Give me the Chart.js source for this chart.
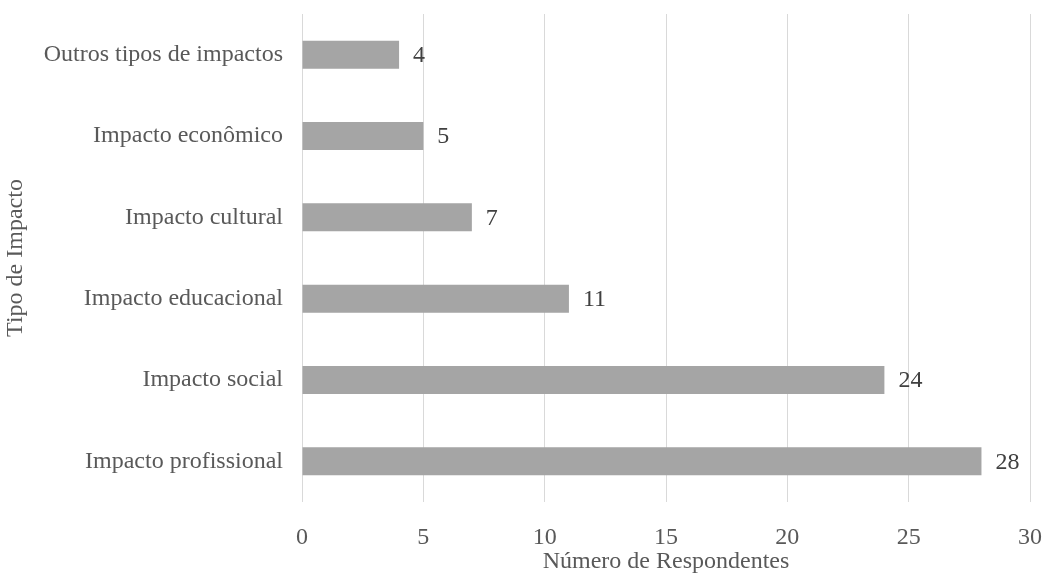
<!DOCTYPE html>
<html><head><meta charset="utf-8">
<script src="https://cdn.jsdelivr.net/npm/chart.js@4/dist/chart.umd.min.js"></script>
<style>html,body{margin:0;padding:0;background:#fff;}#wrap{width:1045px;height:576px;}</style>
</head><body><div id="wrap"><canvas id="c" width="1045" height="576"></canvas></div>
<script>
const categories = ["Outros tipos de impactos","Impacto econômico","Impacto cultural","Impacto educacional","Impacto social","Impacto profissional"];
const values = [4,5,7,11,24,28];
const xTicks = [0,5,10,15,20,25,30];

const FONT = "'Liberation Serif','Times New Roman',serif";
const TXT = '#595959';

const labelPlugin = {
  id:'vals',
  afterDatasetsDraw(chart){
    const ctx = chart.ctx;
    const meta = chart.getDatasetMeta(0);
    ctx.save();
    ctx.font = '24px ' + FONT;
    ctx.fillStyle = '#404040';
    ctx.textAlign = 'left';
    ctx.textBaseline = 'middle';
    meta.data.forEach((bar,i)=>{
      ctx.fillText(String(values[i]), bar.x + 14, bar.y + 1);
    });
    ctx.restore();
  }
};

function zeroPad(ax){ ax.paddingTop = 0; ax.paddingBottom = 0; ax.paddingLeft = 0; ax.paddingRight = 0; }

new Chart(document.getElementById('c'), {
  type:'bar',
  data:{ labels: categories, datasets:[{ data: values, backgroundColor:'#a5a5a5', borderWidth:0, barPercentage:0.344, categoryPercentage:1 }]},
  options:{
    indexAxis:'y',
    responsive:false,
    animation:false,
    devicePixelRatio:1,
    layout:{ padding:{ top:14, right:15, left:0, bottom:0 } },
    plugins:{ legend:{display:false}, tooltip:{enabled:false} },
    scales:{
      x:{
        min:0, max:30,
        afterBuildTicks(ax){ ax.ticks = xTicks.map(v=>({value:v})); },
        grid:{ color:'#d9d9d9', lineWidth:1, drawTicks:false },
        border:{ display:false },
        ticks:{ color:TXT, font:{ family:FONT, size:24 }, padding:21 },
        title:{ display:true, text:'Número de Respondentes', color:TXT, font:{ family:FONT, size:24 }, padding:{top:0,bottom:0} },
        afterFit(ax){ ax.height = 74; zeroPad(ax); }
      },
      y:{
        grid:{ display:false, drawTicks:false },
        border:{ display:false },
        ticks:{ color:TXT, font:{ family:FONT, size:24 }, padding:19 },
        title:{ display:true, text:'Tipo de Impacto', color:TXT, font:{ family:FONT, size:24 }, padding:{top:1,bottom:0} },
        afterFit(ax){ ax.width = 302; zeroPad(ax); }
      }
    }
  },
  plugins:[labelPlugin]
});
</script></body></html>
